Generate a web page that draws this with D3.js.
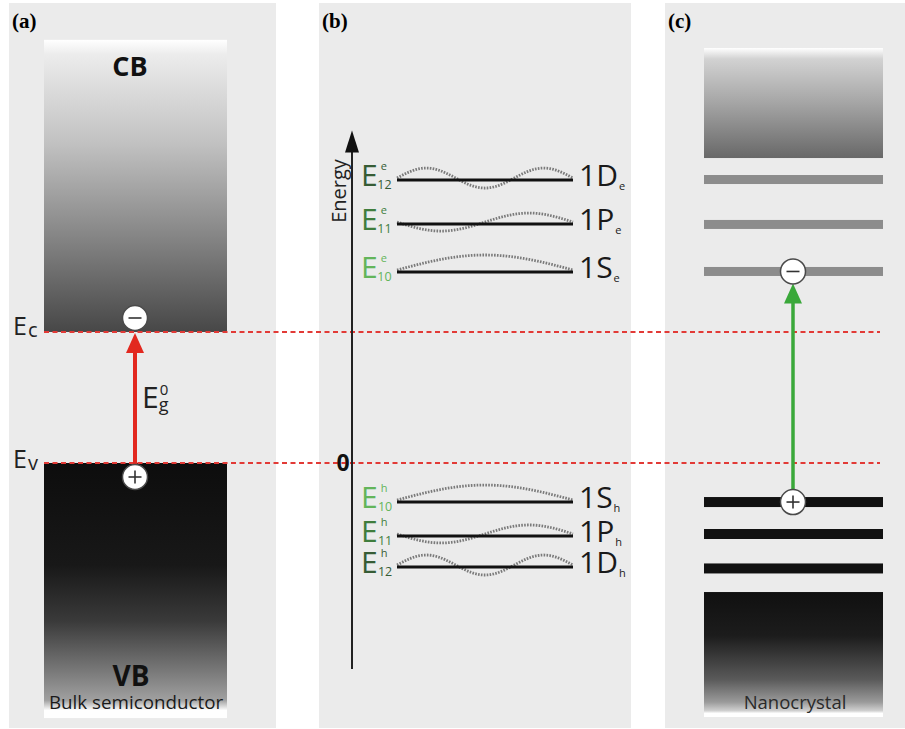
<!DOCTYPE html>
<html><head><meta charset="utf-8">
<script src="https://cdn.jsdelivr.net/npm/d3@7"></script>
<style>body{margin:0;background:#fff}svg{display:block}text{font-family:"Open Sans",sans-serif}</style>
</head><body>
<svg id="c" width="905" height="729"></svg>
<script>
// ---- data (energies in units of the bulk gap, Ev = 0, Ec = 1) ----
const bandEdgeNames = ["c", "v"];
const bandEdgeEnergy = [1, 0];
const bulkCBTop = 3.23, bulkVBBottom = -1.947;
const electronStates = ["1D", "1P", "1S"];
const electronEnergy = [2.16, 1.824, 1.458];
const holeStates = ["1S", "1P", "1D"];
const holeEnergy = [-0.298, -0.557, -0.794];
const stateIndex = { "1S": "10", "1P": "11", "1D": "12" };
const halfWaves = { "1S": 1, "1P": 2, "1D": 3 };
const waveSign = { "1S": 1, "1P": -1, "1D": 1 };
const waveAmp = { "1S": 15, "1P": 9, "1D": 10 };
const labelColor = { "1S": "#63b55a", "1P": "#3f7d3d", "1D": "#365c35" };
const ncElectronEnergy = [2.164, 1.821, 1.462];
const ncHoleEnergy = [-0.298, -0.542, -0.805];
const ncCBRange = [3.168, 2.328];
const ncVBRange = [-0.985, -1.939];
const axisRange = [2.5, -1.573];
const panelLabels = ["(a)", "(b)", "(c)"];

const svg = d3.select("#c");
const y = d3.scaleLinear().domain([0, 1]).range([463, 332]);
const defs = svg.append("defs");

function grad(id, stops) {
  const g = defs.append("linearGradient").attr("id", id).attr("x1", 0).attr("x2", 0).attr("y1", 0).attr("y2", 1);
  stops.forEach(s => g.append("stop").attr("offset", s[0]).attr("stop-color", s[1]));
}
grad("cbA", [[0, "#ffffff"], [0.05, "#ececec"], [0.35, "#c2c2c2"], [0.7, "#808080"], [1, "#474747"]]);
grad("vbA", [[0, "#0d0d0d"], [0.4, "#181818"], [0.62, "#3a3a3a"], [0.82, "#7a7a7a"], [0.93, "#a0a0a0"], [0.97, "#ffffff"], [1, "#ffffff"]]);
grad("cbC", [[0, "#ffffff"], [0.1, "#d2d2d2"], [0.5, "#a5a5a5"], [1, "#686868"]]);
grad("vbC", [[0, "#101010"], [0.35, "#1c1c1c"], [0.7, "#5a5a5a"], [0.88, "#9a9a9a"], [0.95, "#d0d0d0"], [0.97, "#ffffff"], [1, "#ffffff"]]);

// panels
const panelX = [[9, 276], [319, 631], [665, 905]];
svg.selectAll("rect.panel").data(panelX).join("rect").attr("class", "panel")
  .attr("x", d => d[0]).attr("y", 3).attr("width", d => d[1] - d[0]).attr("height", 725)
  .attr("fill", "#ebebeb");
svg.selectAll("text.plabel").data(panelLabels).join("text").attr("class", "plabel")
  .attr("x", (d, i) => panelX[i][0] + 3).attr("y", 28)
  .style("font-family", "'Liberation Serif',serif").style("font-weight", "bold").style("font-size", "21px")
  .text(d => d);

// ---- panel (a) bulk ----
const ax0 = 44, ax1 = 227, acx = 135;
svg.append("rect").attr("x", ax0).attr("y", y(bulkCBTop)).attr("width", ax1 - ax0)
  .attr("height", y(1) - y(bulkCBTop)).attr("fill", "url(#cbA)");
svg.append("rect").attr("x", ax0).attr("y", y(0)).attr("width", ax1 - ax0)
  .attr("height", y(bulkVBBottom) - y(0)).attr("fill", "url(#vbA)");
svg.append("text").attr("x", 130).attr("y", 76).attr("text-anchor", "middle")
  .style("font-weight", "bold").style("font-size", "27px").attr("fill", "#111").text("CB");
svg.append("text").attr("x", 131).attr("y", 686).attr("text-anchor", "middle")
  .style("font-weight", "bold").style("font-size", "28px").attr("fill", "#111").text("VB");
svg.append("text").attr("x", 136).attr("y", 709).attr("text-anchor", "middle")
  .style("font-size", "18.8px").attr("fill", "#1a1a1a").text("Bulk semiconductor");

// red dotted band-edge lines
svg.selectAll("line.edge").data(bandEdgeEnergy).join("line").attr("class", "edge")
  .attr("x1", ax0).attr("x2", 880).attr("y1", d => y(d)).attr("y2", d => y(d))
  .attr("stroke", "#e23a36").attr("stroke-width", 2.2).attr("stroke-dasharray", "5,3.5");

// Ec / Ev labels
bandEdgeNames.forEach((n, i) => {
  const t = svg.append("text").attr("x", 13).attr("y", y(bandEdgeEnergy[i]) + (i === 0 ? 3 : 5))
    .style("font-size", "25px").attr("fill", "#222");
  t.append("tspan").text("E");
  t.append("tspan").style("font-size", "20px").attr("dx", 1).attr("dy", 2).text(n);
});

function arrow(x, yFrom, yTip, color, w) {
  svg.append("line").attr("x1", x).attr("x2", x).attr("y1", yFrom).attr("y2", yTip + 14)
    .attr("stroke", color).attr("stroke-width", w);
  svg.append("path").attr("d", `M${x},${yTip} L${x - 9},${yTip + 20} L${x + 9},${yTip + 20} Z`).attr("fill", color);
}
function carrier(x, cy, sign) {
  const g = svg.append("g");
  g.append("circle").attr("cx", x).attr("cy", cy).attr("r", 12.5).attr("fill", "#fff")
    .attr("stroke", "#4a4a4a").attr("stroke-width", 1.5);
  g.append("line").attr("x1", x - 6.5).attr("x2", x + 6.5).attr("y1", cy).attr("y2", cy)
    .attr("stroke", "#333").attr("stroke-width", 1.6);
  if (sign > 0) g.append("line").attr("x1", x).attr("x2", x).attr("y1", cy - 6.5).attr("y2", cy + 6.5)
    .attr("stroke", "#333").attr("stroke-width", 1.6);
}
arrow(acx, y(0) + 2, y(1) + 1, "#e2281f", 4);
carrier(acx, y(1) - 14, -1);
carrier(acx, y(0) + 14, 1);
{
  const t = svg.append("text").attr("x", 142).attr("y", 408).style("font-size", "30px").attr("fill", "#222");
  t.append("tspan").text("E");
  t.append("tspan").style("font-size", "15px").attr("dx", 1).attr("dy", -13).text("0");
  t.append("tspan").style("font-size", "18px").attr("dx", -9.5).attr("dy", 16).text("g");
}

// ---- panel (b) ----
const bx = 352;
svg.append("line").attr("x1", bx).attr("x2", bx).attr("y1", y(axisRange[0]) + 10).attr("y2", y(axisRange[1]))
  .attr("stroke", "#222").attr("stroke-width", 2);
svg.append("path").attr("d", `M${bx},${y(axisRange[0]) - 5} L${bx - 7},${y(axisRange[0]) + 17} L${bx + 7},${y(axisRange[0]) + 17} Z`)
  .attr("fill", "#111");
svg.append("text").attr("transform", `translate(346,191) rotate(-90)`).attr("text-anchor", "middle")
  .style("font-size", "20px").attr("fill", "#222").text("Energy");
svg.append("text").attr("x", 343).attr("y", y(0) + 8).attr("text-anchor", "middle")
  .style("font-weight", "bold").style("font-size", "23px").attr("fill", "#111").text("0");

const lx0 = 397, lx1 = 573;
const waveLine = d3.line().x(d => d[0]).y(d => d[1]);
function level(state, e, carrierLetter) {
  const yy = y(e);
  const n = halfWaves[state], s = waveSign[state], A = waveAmp[state];
  const pts = d3.range(0, 101).map(k => {
    const t = k / 100;
    return [lx0 + t * (lx1 - lx0), yy - 2 - s * A * Math.sin(Math.PI * n * t)];
  });
  svg.append("path").attr("d", waveLine(pts)).attr("fill", "none").attr("stroke", "#7a7a7a")
    .attr("stroke-width", 2.8).attr("stroke-dasharray", "1.6,1.3");
  svg.append("line").attr("x1", lx0).attr("x2", lx1).attr("y1", yy).attr("y2", yy)
    .attr("stroke", "#111").attr("stroke-width", 3);
  const col = labelColor[state];
  const t = svg.append("text").attr("x", 361).attr("y", yy + 6).style("font-size", "30px").attr("fill", col);
  t.append("tspan").text("E");
  t.append("tspan").style("font-size", "11px").attr("dx", 3).attr("dy", -16).text(carrierLetter);
  t.append("tspan").style("font-size", "12.5px").attr("dx", -9.5).attr("dy", 19).text(stateIndex[state]);
  const r = svg.append("text").attr("x", 579).attr("y", yy + 6).style("font-size", "30px").attr("fill", "#1a1a1a");
  r.append("tspan").text(state);
  r.append("tspan").style("font-size", "11px").attr("dx", 1).attr("dy", 4).text(carrierLetter);
}
electronStates.forEach((s, i) => level(s, electronEnergy[i], "e"));
holeStates.forEach((s, i) => level(s, holeEnergy[i], "h"));

// ---- panel (c) nanocrystal ----
const cx0 = 704, cx1 = 883, ccx = 793;
svg.append("rect").attr("x", cx0).attr("y", y(ncCBRange[0])).attr("width", cx1 - cx0)
  .attr("height", y(ncCBRange[1]) - y(ncCBRange[0])).attr("fill", "url(#cbC)");
svg.append("rect").attr("x", cx0).attr("y", y(ncVBRange[0])).attr("width", cx1 - cx0)
  .attr("height", y(ncVBRange[1]) - y(ncVBRange[0])).attr("fill", "url(#vbC)");
svg.selectAll("rect.ce").data(ncElectronEnergy).join("rect").attr("class", "ce")
  .attr("x", cx0).attr("width", cx1 - cx0).attr("y", d => y(d) - 4.5).attr("height", 9).attr("fill", "#8c8c8c");
svg.selectAll("rect.ch").data(ncHoleEnergy).join("rect").attr("class", "ch")
  .attr("x", cx0).attr("width", cx1 - cx0).attr("y", d => y(d) - 5).attr("height", 10).attr("fill", "#111");
svg.append("text").attr("x", 795).attr("y", 709).attr("text-anchor", "middle")
  .style("font-size", "18.5px").attr("fill", "#2a2a2a").text("Nanocrystal");
arrow(ccx, y(ncHoleEnergy[0]) - 10, y(ncElectronEnergy[2]) + 12, "#3aa83a", 3.5);
carrier(ccx, y(ncElectronEnergy[2]), -1);
carrier(ccx, y(ncHoleEnergy[0]), 1);
</script>
</body></html>
